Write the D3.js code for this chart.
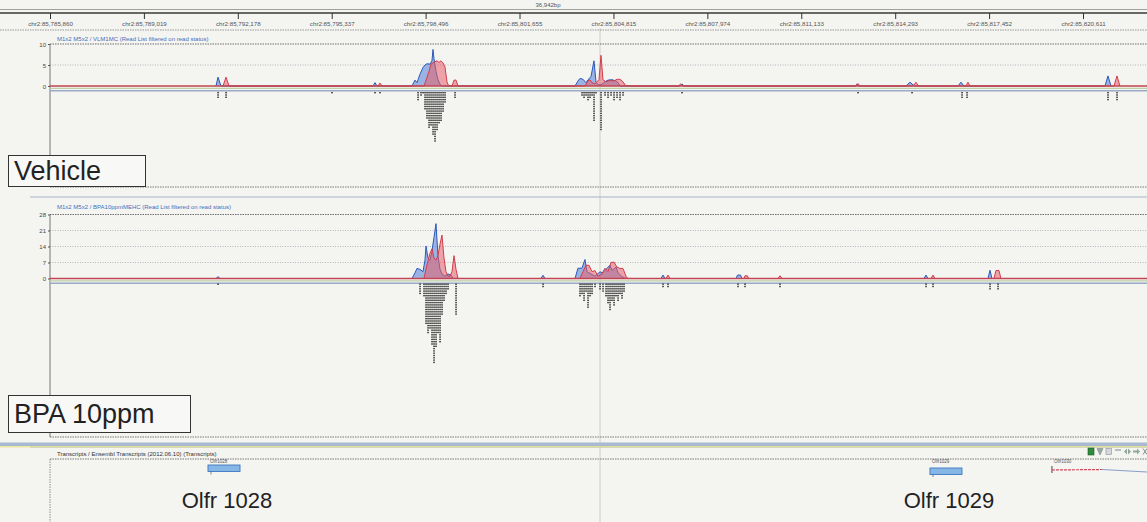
<!DOCTYPE html>
<html>
<head>
<meta charset="utf-8">
<script src="https://cdn.jsdelivr.net/npm/d3@7"></script>
<style>
  html, body { margin: 0; padding: 0; background: #f4f4f1; }
  svg { display: block; font-family: "Liberation Sans", Arial, sans-serif; }
</style>
</head>
<body>
<svg id="chart" width="1147" height="522"></svg>
<script>
// ---- data -------------------------------------------------------------
const rulerTicks = [85785860, 85789019, 85792178, 85795337, 85798496, 85801655,
                    85804815, 85807974, 85811133, 85814293, 85817452, 85820611];
const viewSpanLabel = "36,942bp";

const vehicleTitle = "M1x2 M5x2 / VLM1MC (Read List filtered on read status)";
const bpaTitle = "M1x2 M5x2 / BPA10ppmMEHC (Read List filtered on read status)";
const transcriptTitle = "Transcripts / Ensembl Transcripts (2012.06.10) (Transcripts)";

const vehicleTicks = [0, 5, 10];
const bpaTicks = [0, 7, 14, 21, 28];

// coverage: [chromosome position, reads]
const vehicleBlue = [
  [85791444,0],[85791512,2.1],[85791612,0],
  [85796726,0],[85796793,0.8],[85796860,0],
  [85798038,0],[85798139,1.4],[85798206,0.8],[85798240,1.5],[85798307,2.8],[85798408,4.4],
  [85798475,5],[85798542,5.3],[85798643,5.2],[85798710,6],[85798744,8.7],[85798778,6.5],
  [85798845,3.5],[85798912,1.5],[85798980,0.4],[85799047,0],
  [85803521,0],[85803622,1.2],[85803689,1.8],[85803790,1.6],[85803891,0.8],[85803958,1.5],
  [85804059,2.2],[85804160,6],[85804227,1],[85804295,0.3],[85804396,0.3],[85804530,1],
  [85804631,1.4],[85804766,1.5],[85804900,1.2],[85804968,0.8],[85805035,0],
  [85807053,0],[85807120,0.5],[85807188,0],
  [85812940,0],[85813000,0.4],[85813060,0],
  [85814657,0],[85814790,0.9],[85814940,0],
  [85816405,0],[85816506,0.9],[85816607,0],
  [85821350,0],[85821451,2.4],[85821552,0]
];
const vehicleRed = [
  [85791680,0],[85791781,2.1],[85791882,0],
  [85796894,0],[85796961,0.7],[85797028,0],
  [85798441,0],[85798542,2],[85798610,3.5],[85798677,5.2],[85798744,5.5],[85798811,5.8],
  [85798879,6],[85798946,5.6],[85799013,6],[85799081,5.5],[85799148,4.5],[85799215,1],
  [85799249,0.3],[85799316,0],
  [85799383,0],[85799451,1.4],[85799518,1.4],[85799585,0],
  [85803857,0],[85803958,1.2],[85804026,1.5],[85804093,0.8],[85804194,0.5],[85804328,1.5],
  [85804396,7.3],[85804463,1.5],[85804564,1],[85804698,1.3],[85804833,1.2],[85804934,1.6],
  [85805035,1.6],[85805136,1],[85805237,0],
  [85807000,0],[85807080,0.5],[85807160,0],
  [85812974,0],[85813041,0.6],[85813108,0],
  [85814900,0],[85814990,0.9],[85815080,0],
  [85816674,0],[85816741,0.9],[85816809,0],
  [85821653,0],[85821754,2.4],[85821855,0]
];
const bpaBlue = [
  [85791444,0],[85791512,0.8],[85791580,0],
  [85798038,0],[85798139,2.5],[85798206,4.4],[85798307,4],[85798408,3],[85798475,8],
  [85798509,14.2],[85798576,9],[85798643,8],[85798710,12],[85798778,18],[85798845,24],
  [85798912,10],[85798980,4],[85799047,2],[85799148,1],[85799249,2],[85799350,1.5],[85799418,0],
  [85802377,0],[85802445,1.4],[85802512,0],
  [85803521,0],[85803622,4.5],[85803756,4.5],[85803857,8.3],[85803925,3],[85804059,2],
  [85804194,1],[85804362,2.9],[85804463,2.5],[85804564,4],[85804698,5.8],[85804766,3.5],
  [85804900,5],[85804968,2.5],[85805102,0.8],[85805237,0],
  [85806414,0],[85806481,1.5],[85806549,0],
  [85808937,0],[85808990,1.5],[85809090,1.5],[85809139,0],
  [85815261,0],[85815329,1.5],[85815396,0],
  [85817414,0],[85817482,3.6],[85817549,0]
];
const bpaRed = [
  [85798441,0],[85798542,6],[85798643,11],[85798710,13],[85798778,9],[85798845,8],
  [85798912,10],[85798980,15],[85799047,19],[85799114,9],[85799181,3],[85799249,1],
  [85799316,1],[85799383,3],[85799451,10],[85799518,4],[85799585,0],
  [85803689,0],[85803790,3],[85803891,5.8],[85803992,5.8],[85804093,3],[85804194,3.5],
  [85804295,1],[85804429,2],[85804530,4.5],[85804631,3],[85804732,7],[85804833,7.2],
  [85804934,5],[85805035,4.4],[85805136,4.4],[85805237,1],[85805304,0],
  [85806582,0],[85806650,1.5],[85806717,0],
  [85809206,0],[85809240,1.2],[85809320,1.2],[85809360,0],
  [85810350,0],[85810417,1.2],[85810484,0],
  [85815497,0],[85815564,1.5],[85815631,0],
  [85817616,0],[85817683,3.5],[85817785,3.5],[85817851,0]
];

// stacked reads: [chromosome position, number of reads stacked there]
const vehicleReads = [
  [85791512,3],[85791781,3],[85795346,1],[85796793,1],[85796961,1],
  [85798240,4],[85798340,2],[85798408,1],
  [85798475,8],[85798542,12],[85798610,16],[85798677,15],[85798744,19],[85798811,22],
  [85798879,17],[85798946,14],[85799013,13],[85799081,9],[85799148,5],
  [85799484,3],
  [85803756,2],[85803824,3],[85803891,2],[85803958,4],[85804026,3],[85804093,2],
  [85804160,13],[85804227,1],[85804396,17],[85804530,2],[85804631,3],[85804732,2],
  [85804833,4],[85804934,3],[85805035,4],[85805136,2],
  [85807120,1],[85813041,1],[85814858,1],[85816540,3],[85816708,3],
  [85821451,4],[85821754,4]
];
const bpaReads = [
  [85791512,1],
  [85798307,5],[85798441,6],[85798509,18],[85798576,22],[85798643,20],[85798710,27],
  [85798778,35],[85798845,28],[85798912,22],[85798980,26],[85799047,14],[85799114,8],
  [85799181,5],[85799249,3],
  [85799518,14],
  [85802445,2],
  [85803689,6],[85803756,5],[85803824,8],[85803891,4],[85803958,11],[85804026,6],
  [85804093,5],[85804194,2],[85804362,3],[85804463,4],[85804564,6],[85804631,9],
  [85804698,12],[85804766,8],[85804833,10],[85804900,6],[85804968,8],[85805035,5],
  [85805102,7],[85805169,4],
  [85806481,2],[85806650,2],[85809004,2],[85809240,2],[85810417,2],
  [85815329,2],[85815564,2],[85817482,3],[85817751,3]
];

const geneNames = ["Olfr1028", "Olfr1029", "Olfr1030"];
const geneStarts = [85791175, 85815463, 85819567];
const geneEnds = [85792252, 85816540, 85825000];
const geneCallouts = ["Olfr 1028", "Olfr 1029"];
const panelLabels = ["Vehicle", "BPA 10ppm"];

// ---- drawing ----------------------------------------------------------
const W = 1147, H = 522, left = 50;
const svg = d3.select("#chart");
const fmt = d3.format(",");

const x = d3.scaleLinear().domain([rulerTicks[0], rulerTicks[rulerTicks.length - 1]]).range([left, 1083]);

// vertical cursor line through all tracks
svg.append("line").attr("x1", 600).attr("x2", 600).attr("y1", 28).attr("y2", H)
  .attr("stroke", "#c4c4c4").attr("stroke-width", 0.8);

// ruler
svg.append("line").attr("x1", 0).attr("x2", W).attr("y1", 9.5).attr("y2", 9.5)
  .attr("stroke", "#8a8a8a").attr("stroke-width", 0.8);
svg.append("line").attr("x1", 0).attr("x2", W).attr("y1", 13).attr("y2", 13)
  .attr("stroke", "#3a3a3a").attr("stroke-width", 1.3);
svg.append("text").attr("x", 548).attr("y", 7).attr("text-anchor", "middle")
  .attr("font-size", 6).attr("fill", "#555").text(viewSpanLabel);

const rulerAxis = d3.axisBottom(x).tickValues(rulerTicks).tickSize(6)
  .tickFormat(d => "chr2:" + fmt(d));
const rg = svg.append("g").attr("transform", "translate(0,13)").call(rulerAxis);
rg.select(".domain").remove();
rg.selectAll(".tick line").attr("stroke", "#333").attr("stroke-width", 1);
rg.selectAll(".tick text").attr("font-size", 6.2).attr("fill", "#555")
  .attr("dy", 0).attr("y", 13).attr("font-family", "Liberation Sans, Arial, sans-serif");

function dotted(y, x0, x1, color, width, dash) {
  svg.append("line").attr("x1", x0).attr("x2", x1).attr("y1", y).attr("y2", y)
    .attr("stroke", color).attr("stroke-width", width).attr("stroke-dasharray", dash);
}
dotted(30, 0, W, "#8d8d8d", 0.9, "1.5,1");

// one coverage + read track
function drawTrack(cfg) {
  const y = d3.scaleLinear().domain([0, cfg.ticks[cfg.ticks.length - 1]]).range([cfg.base, cfg.top]);
  const g = svg.append("g");

  g.append("text").attr("x", 57).attr("y", cfg.titleY).attr("font-size", 6)
    .attr("fill", "#3f6fc0").text(cfg.title);

  // gridlines
  cfg.ticks.slice(1).forEach((t, i) => {
    const last = i === cfg.ticks.length - 2;
    g.append("line").attr("x1", left).attr("x2", W).attr("y1", y(t)).attr("y2", y(t))
      .attr("stroke", last ? "#6f6f6f" : "#a4a4b0").attr("stroke-width", last ? 1 : 0.8)
      .attr("stroke-dasharray", last ? "1.5,1" : "1,1.5");
  });

  // y axis
  const ax = d3.axisLeft(y).tickValues(cfg.ticks).tickSize(2).tickFormat(d3.format("d"));
  const ag = g.append("g").attr("transform", `translate(${left},0)`).call(ax);
  ag.select(".domain").attr("stroke", "#555").attr("stroke-width", 0.8)
    .attr("d", `M0,${cfg.top}V${cfg.frameBottom}`);
  ag.selectAll(".tick line").attr("stroke", "#555");
  ag.selectAll(".tick text").attr("font-size", 6).attr("fill", "#444").attr("dy", "0.9em")
    .attr("x", -4).attr("font-family", "Liberation Sans, Arial, sans-serif")
    .attr("transform", "translate(0,-3)");

  // baseline bands
  g.append("line").attr("x1", left).attr("x2", W).attr("y1", cfg.base + 2.3).attr("y2", cfg.base + 2.3)
    .attr("stroke", "#bcd0a8").attr("stroke-width", 1.2);
  g.append("line").attr("x1", left).attr("x2", W).attr("y1", cfg.base + 4.8).attr("y2", cfg.base + 4.8)
    .attr("stroke", "#98aac6").attr("stroke-width", 1.6);

  const area = d3.area().x(d => x(d[0])).y0(cfg.base).y1(d => y(d[1]));
  const line = d3.line().x(d => x(d[0])).y(d => y(d[1]));

  g.append("path").datum(cfg.blue).attr("d", area).attr("fill", "rgba(80,125,215,0.55)");
  g.append("path").datum(cfg.blue).attr("d", line).attr("fill", "none")
    .attr("stroke", "#2c58b8").attr("stroke-width", 1);
  g.append("path").datum(cfg.red).attr("d", area).attr("fill", "rgba(232,95,108,0.55)");
  g.append("path").datum(cfg.red).attr("d", line).attr("fill", "none")
    .attr("stroke", "#d23d4c").attr("stroke-width", 1);

  g.append("line").attr("x1", left).attr("x2", W).attr("y1", cfg.base).attr("y2", cfg.base)
    .attr("stroke", "#c2454f").attr("stroke-width", 1.5);

  // stacked reads
  const pitch = 2.3;
  const reads = cfg.reads.flatMap(([pos, n]) => d3.range(n).map(r => ({ pos, r })));
  g.selectAll("rect.read").data(reads).join("rect").attr("class", "read")
    .attr("x", d => x(d.pos) - 0.7).attr("width", 1.5)
    .attr("y", d => cfg.readTop + d.r * pitch).attr("height", 1.4)
    .attr("fill", "#2a2a2a");

  // frame bottom
  g.append("line").attr("x1", left).attr("x2", W).attr("y1", cfg.frameBottom).attr("y2", cfg.frameBottom)
    .attr("stroke", "#6a6a6a").attr("stroke-width", 0.9).attr("stroke-dasharray", "1.5,1");
  g.append("line").attr("x1", 30).attr("x2", W).attr("y1", cfg.frameBottom + 10).attr("y2", cfg.frameBottom + 10)
    .attr("stroke", "#a9b4c6").attr("stroke-width", 1);
}

drawTrack({ title: vehicleTitle, titleY: 40.5, ticks: vehicleTicks, top: 44, base: 86,
  frameBottom: 187, blue: vehicleBlue, red: vehicleRed, reads: vehicleReads, readTop: 92 });
drawTrack({ title: bpaTitle, titleY: 208.5, ticks: bpaTicks, top: 214.5, base: 278.5,
  frameBottom: 437, blue: bpaBlue, red: bpaRed, reads: bpaReads, readTop: 283.5 });

// band above the transcript track
svg.append("rect").attr("x", 0).attr("y", 442.5).attr("width", W).attr("height", 3.5)
  .attr("fill", "#a7bad2");
svg.append("line").attr("x1", 0).attr("x2", W).attr("y1", 446.8).attr("y2", 446.8)
  .attr("stroke", "#e8e27a").attr("stroke-width", 1);

// transcripts track
svg.append("text").attr("x", 57).attr("y", 455.5).attr("font-size", 6).attr("fill", "#333")
  .text(transcriptTitle);
dotted(459, left, W, "#6a6a6a", 0.9, "1.5,1");
svg.append("line").attr("x1", left).attr("x2", left).attr("y1", 459).attr("y2", H)
  .attr("stroke", "#777").attr("stroke-width", 0.8).attr("stroke-dasharray", "1.5,1");

// toolbar icons
const tb = svg.append("g");
tb.append("rect").attr("x", 1088).attr("y", 448).attr("width", 6).attr("height", 7)
  .attr("fill", "#2f8a3c").attr("stroke", "#1d5a28").attr("stroke-width", 0.6);
tb.append("path").attr("d", "M1097,448.5H1103L1100,455Z").attr("fill", "#9aa9a0").attr("stroke", "#6f7f76").attr("stroke-width", 0.5);
tb.append("rect").attr("x", 1106).attr("y", 448.5).attr("width", 5.5).attr("height", 6)
  .attr("fill", "#d5d8dc").attr("stroke", "#8b9096").attr("stroke-width", 0.6);
tb.append("line").attr("x1", 1115).attr("x2", 1121).attr("y1", 450).attr("y2", 450)
  .attr("stroke", "#8a96a8").attr("stroke-width", 1.2);
tb.append("path").attr("d", "M1124,451.5L1127,448.5V454.5ZM1131,451.5L1128,448.5V454.5Z").attr("fill", "#8ea69a");
tb.append("path").attr("d", "M1133,450.5H1137V448.5L1140,451.5L1137,454.5V452.5H1133Z").attr("fill", "#8ea69a");
tb.append("path").attr("d", "M1143,448.5L1147,454.5M1147,448.5L1143,454.5").attr("stroke", "#8a8a8a").attr("stroke-width", 1);

// transcripts
const gy = 465;
geneNames.forEach((name, i) => {
  const x0 = x(geneStarts[i]), x1 = Math.min(x(geneEnds[i]), W);
  svg.append("text").attr("x", x0 + 2).attr("y", gy - 2).attr("font-size", 4.5).attr("fill", "#555").text(name);
  if (i < 2) {
    svg.append("rect").attr("x", x0).attr("y", gy + (i ? 3 : 0)).attr("width", x1 - x0).attr("height", 6.5)
      .attr("fill", "#86b6e6").attr("stroke", "#3e78c2").attr("stroke-width", 0.9);
    svg.append("line").attr("x1", x0 + 3).attr("x2", x0 + 3).attr("y1", gy + (i ? 9.5 : 6.5)).attr("y2", gy + (i ? 12 : 9.5))
      .attr("stroke", "#555").attr("stroke-width", 0.7);
  } else {
    svg.append("line").attr("x1", x0).attr("x2", x0).attr("y1", gy + 1).attr("y2", gy + 8)
      .attr("stroke", "#333").attr("stroke-width", 0.9);
    svg.append("path").attr("d", `M${x0},${gy + 5}L${x0 + 50},${gy + 4.5}`)
      .attr("stroke", "#d3475a").attr("stroke-width", 1.2).attr("stroke-dasharray", "3,1").attr("fill", "none");
    svg.append("path").attr("d", `M${x0 + 50},${gy + 4.5}L${x1},${gy + 7}`)
      .attr("stroke", "#5a79b8").attr("stroke-width", 0.7).attr("fill", "none");
  }
});

geneCallouts.forEach((t, i) => {
  svg.append("text").attr("x", (x(geneStarts[i]) + x(geneEnds[i])) / 2 + 3).attr("y", 508)
    .attr("text-anchor", "middle").attr("font-size", 22).attr("fill", "#222").text(t);
});

// panel labels
const boxes = [{ y: 155, h: 31, w: 137 }, { y: 395, h: 37, w: 182 }];
panelLabels.forEach((t, i) => {
  const b = boxes[i];
  svg.append("rect").attr("x", 8.5).attr("y", b.y + 0.5).attr("width", b.w).attr("height", b.h)
    .attr("fill", "#f8f8f6").attr("stroke", "#333").attr("stroke-width", 1);
  svg.append("text").attr("x", 14).attr("y", b.y + b.h - (i ? 9 : 6)).attr("font-size", 27)
    .attr("fill", "#222").text(t);
});
</script>
</body>
</html>
